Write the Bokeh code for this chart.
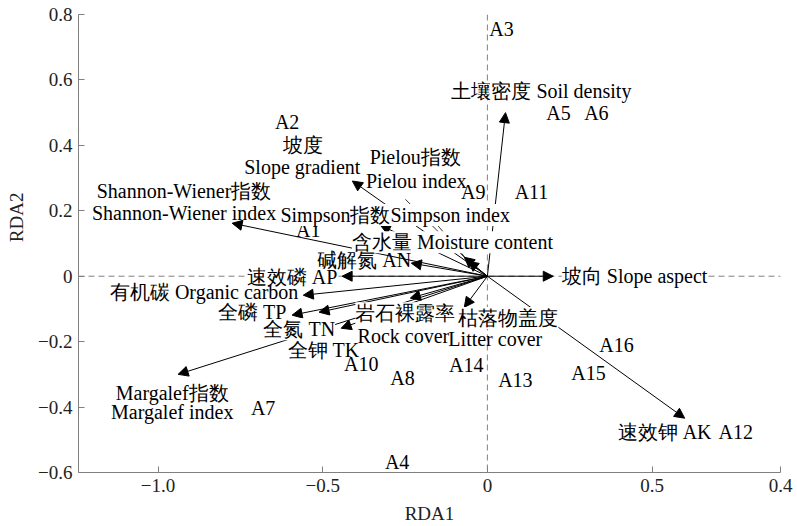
from bokeh.plotting import figure
from bokeh.models import (ColumnDataSource, Arrow, NormalHead, LabelSet,
                          FixedTicker, Range1d, Span)
from bokeh.core.properties import value
from bokeh.embed import file_html
from bokeh.resources import INLINE

# ---------------- data ----------------
# variable vectors (RDA1, RDA2)
var_names = ["Soil density", "Slope aspect", "AK", "Slope gradient", "Shannon-Wiener",
             "Simpson", "Pielou", "Moisture content", "AN", "AP", "Organic carbon",
             "TP", "TN", "TK", "Margalef", "Rock cover", "Litter cover"]
var_rda1 = [0.055, 0.20, 0.599, -0.410, -0.775, -0.058, -0.070, -0.325, -0.231, -0.441,
            -0.559, -0.593, -0.444, -0.511, -0.939, -0.234, -0.070]
var_rda2 = [0.500, 0.0, -0.434, 0.291, 0.162, 0.046, 0.058, 0.156, 0.040, 0.0,
            -0.058, -0.119, -0.159, -0.110, -0.300, -0.067, -0.095]

# leader lines from short vectors to their labels
leader_from = ["Simpson", "Pielou"]
leader_rda1 = [-0.167, -0.249]
leader_rda2 = [0.174, 0.235]

# sample sites
site_names = ["A1", "A2", "A3", "A4", "A5", "A6", "A7", "A8", "A9", "A10",
              "A11", "A12", "A13", "A14", "A15", "A16"]
site_rda1 = [-0.544, -0.608, 0.043, -0.274, 0.216, 0.331, -0.681, -0.258, -0.043, -0.383,
             0.134, 0.754, 0.085, -0.064, 0.307, 0.392]
site_rda2 = [0.141, 0.471, 0.755, -0.569, 0.500, 0.500, -0.404, -0.312, 0.257, -0.269,
             0.257, -0.477, -0.318, -0.272, -0.297, -0.211]

# variable label texts (those that sit over lines get a white box)
boxed_texts = ["坡向 Slope aspect", "速效磷 AP", "Simpson指数Simpson index",
               "含水量 Moisture content", "岩石裸露率", "枯落物盖度", "全氮 TN"]
boxed_x = [0.447, -0.593, -0.280, -0.106, -0.249, 0.064, -0.571]
boxed_y = [0.0, -0.003, 0.187, 0.104, -0.113, -0.128, -0.162]

plain_texts = ["土壤密度 Soil density", "速效钾 AK", "坡度", "Slope gradient",
               "Shannon-Wiener指数", "Shannon-Wiener index", "Pielou指数", "Pielou index",
               "碱解氮 AN", "有机碳 Organic carbon", "全磷 TP", "全钾 TK", "Margalef指数",
               "Margalef index", "Rock cover", "Litter cover"]
plain_x = [0.164, 0.538, -0.559, -0.562, -0.921, -0.921, -0.219, -0.216,
           -0.374, -0.860, -0.714, -0.498, -0.957, -0.957, -0.255, 0.024]
plain_y = [0.566, -0.477, 0.401, 0.333, 0.260, 0.193, 0.364, 0.291,
           0.049, -0.049, -0.110, -0.226, -0.358, -0.416, -0.183, -0.193]

x_ticks = [-1.0, -0.5, 0.0, 0.5, 0.89]
x_tick_labels = ["\u22121.0", "\u22120.5", "0", "0.5", "0.4"]
y_ticks = [-0.6, -0.4, -0.2, 0.0, 0.2, 0.4, 0.6, 0.8]
y_tick_labels = ["\u22120.6", "\u22120.4", "\u22120.2", "0", "0.2", "0.4", "0.6", "0.8"]

# ---------------- plot ----------------
FONT = "Liberation Serif"
AX = "#808080"

p = figure(width=797, height=526, x_range=Range1d(-1.2415, 0.89), y_range=Range1d(-0.6, 0.8),
           output_backend="svg", toolbar_location=None,
           min_border_left=78, min_border_right=17, min_border_top=14, min_border_bottom=54)
p.grid.visible = False
p.outline_line_color = None
p.background_fill_color = "white"

for ax in (p.xaxis[0], p.yaxis[0]):
    ax.axis_line_color = AX
    ax.major_tick_line_color = AX
    ax.major_tick_in = 6
    ax.major_tick_out = 0
    ax.minor_tick_line_color = None
    ax.major_label_text_font = "Times New Roman"
    ax.major_label_text_font_size = "19px"
    ax.major_label_text_color = "#222222"
    ax.major_label_standoff = 6
    ax.axis_label_text_font = "Times New Roman"
    ax.axis_label_text_font_size = "19px"
    ax.axis_label_text_font_style = "normal"
    ax.axis_label_text_color = "#222222"
    ax.axis_label_standoff = 8

p.xaxis.axis_label = "RDA1"
# leading no-break spaces lift the label toward the upper part of the axis, as in the original
p.yaxis.axis_label = "\u00a0" * 11 + "RDA2"
p.xaxis.ticker = FixedTicker(ticks=x_ticks)
p.yaxis.ticker = FixedTicker(ticks=y_ticks)
p.xaxis.major_label_overrides = {t: s for t, s in zip(x_ticks, x_tick_labels)}
p.yaxis.major_label_overrides = {t: s for t, s in zip(y_ticks, y_tick_labels)}

p.add_layout(Span(location=0, dimension="width", line_color=AX, line_dash="6 4",
                  line_width=1, level="underlay"))
p.add_layout(Span(location=0, dimension="height", line_color=AX, line_dash="6 4",
                  line_width=1, level="underlay"))

vsrc = ColumnDataSource(dict(x0=[0.0] * len(var_rda1), y0=[0.0] * len(var_rda2),
                             x1=var_rda1, y1=var_rda2))
p.add_layout(Arrow(source=vsrc, x_start="x0", y_start="y0", x_end="x1", y_end="y1",
                   line_color="black", line_width=1,
                   end=NormalHead(size=10, fill_color="black", line_color="black")))

lx0 = [var_rda1[var_names.index(n)] for n in leader_from]
ly0 = [var_rda2[var_names.index(n)] for n in leader_from]
p.segment(x0=lx0, y0=ly0, x1=leader_rda1, y1=leader_rda2, line_color="black", line_width=0.8)

bsrc = ColumnDataSource(dict(x=boxed_x, y=boxed_y, text=boxed_texts))
p.add_layout(LabelSet(source=bsrc, x="x", y="y", text="text", text_align="center",
                      text_baseline="middle", text_font=value(FONT), text_font_size="20px",
                      text_color="black", background_fill_color="white"))
psrc = ColumnDataSource(dict(x=plain_x, y=plain_y, text=plain_texts))
p.add_layout(LabelSet(source=psrc, x="x", y="y", text="text", text_align="center",
                      text_baseline="middle", text_font=value(FONT), text_font_size="20px",
                      text_color="black"))

ssrc = ColumnDataSource(dict(x=site_rda1, y=site_rda2, text=site_names))
p.text(x="x", y="y", text="text", source=ssrc, text_align="center", text_baseline="middle",
       text_font=value(FONT), text_font_size="20px", text_color="black")

open("out.html", "w").write(file_html(p, INLINE))
